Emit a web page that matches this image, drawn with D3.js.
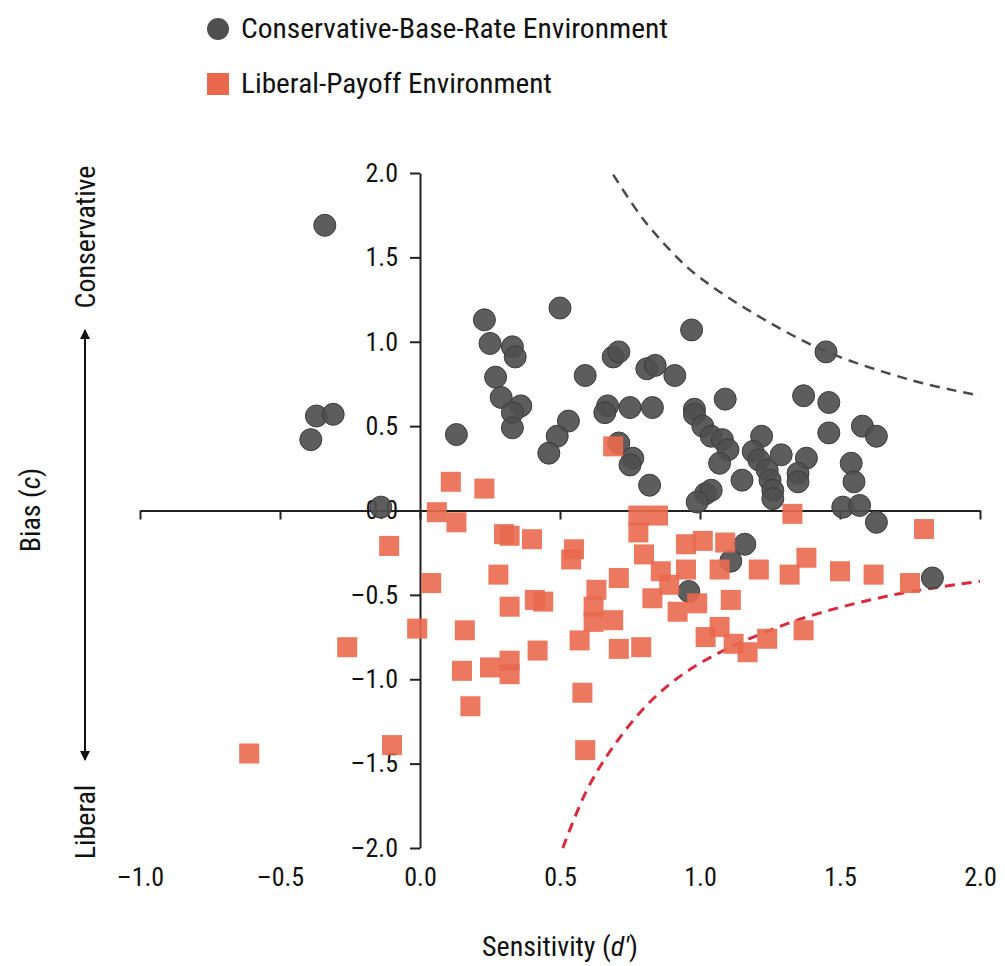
<!DOCTYPE html>
<html>
<head>
<meta charset="utf-8">
<script src="https://cdn.jsdelivr.net/npm/d3@7"></script>
<style>
  html, body { margin: 0; padding: 0; background: #fff; }
  svg text { font-family: "Liberation Sans Narrow", "Roboto Condensed", "Liberation Sans", Arial, sans-serif; fill: #111; }
</style>
</head>
<body>
<div id="chart"></div>
<script>
// legend labels
var seriesNames = ["Conservative-Base-Rate Environment", "Liberal-Payoff Environment"];

// [sensitivity d', bias c] per participant
var conservative = [
    [-0.34, 1.69], [-0.37, 0.56], [-0.31, 0.57], [-0.39, 0.42], [-0.14, 0.02],
    [0.50, 1.20], [0.23, 1.13], [0.25, 0.99], [0.33, 0.97], [0.34, 0.91], [0.27, 0.79],
    [0.29, 0.67], [0.36, 0.62], [0.33, 0.58], [0.33, 0.49], [0.13, 0.45], [0.53, 0.53],
    [0.49, 0.44], [0.46, 0.34], [0.59, 0.80], [0.69, 0.91], [0.71, 0.94], [0.81, 0.84],
    [0.84, 0.86], [0.67, 0.62], [0.66, 0.58], [0.75, 0.61], [0.83, 0.61], [0.71, 0.40],
    [0.76, 0.31], [0.75, 0.27], [0.82, 0.15],
    [0.97, 1.07], [1.45, 0.94], [0.91, 0.80], [1.09, 0.66], [1.37, 0.68], [1.46, 0.64],
    [1.46, 0.46], [1.58, 0.50], [1.63, 0.44], [0.98, 0.60], [0.98, 0.57], [1.01, 0.50],
    [1.04, 0.44], [1.08, 0.42], [1.10, 0.36], [1.07, 0.28], [1.15, 0.18], [1.22, 0.44],
    [1.19, 0.35], [1.21, 0.30], [1.24, 0.24], [1.25, 0.18], [1.26, 0.12], [1.26, 0.07],
    [1.29, 0.33], [1.38, 0.31], [1.35, 0.22], [1.35, 0.17], [1.54, 0.28], [1.55, 0.17],
    [1.51, 0.02], [1.57, 0.03], [1.63, -0.07], [1.02, 0.10], [1.04, 0.12], [0.99, 0.05],
    [1.16, -0.20], [1.11, -0.30], [0.96, -0.48], [1.83, -0.40]
];

var liberal = [
    [-0.11, -0.21], [0.04, -0.43], [-0.01, -0.70], [-0.26, -0.81], [-0.10, -1.39], [-0.61, -1.44],
    [0.11, 0.17], [0.23, 0.13], [0.06, -0.01], [0.13, -0.07], [0.69, 0.38],
    [0.30, -0.14], [0.32, -0.15], [0.40, -0.17], [0.55, -0.23], [0.54, -0.29], [0.28, -0.38],
    [0.32, -0.57], [0.41, -0.53], [0.44, -0.54], [0.16, -0.71], [0.15, -0.95], [0.18, -1.16],
    [0.25, -0.93], [0.32, -0.89], [0.32, -0.97], [0.42, -0.83], [0.57, -0.77], [0.58, -1.08],
    [0.59, -1.42], [0.63, -0.47], [0.62, -0.57], [0.62, -0.66], [0.69, -0.65], [0.71, -0.40],
    [0.71, -0.82], [0.79, -0.81], [0.78, -0.03], [0.85, -0.03], [0.78, -0.13], [0.80, -0.26],
    [0.86, -0.36], [0.83, -0.52], [0.89, -0.44], [0.92, -0.60], [0.95, -0.20], [0.95, -0.35],
    [1.33, -0.02], [1.80, -0.11], [1.01, -0.18], [1.09, -0.19], [1.07, -0.35], [1.21, -0.35],
    [1.38, -0.28], [1.32, -0.38], [1.50, -0.36], [1.62, -0.38], [1.75, -0.43], [0.99, -0.55],
    [1.11, -0.53], [1.07, -0.69], [1.02, -0.75], [1.12, -0.79], [1.17, -0.84], [1.24, -0.76],
    [1.37, -0.71]
];

// dashed boundary curves
var upperCurve = [[0.69, 1.99], [0.80, 1.72], [0.93, 1.48], [1.0, 1.38], [1.17, 1.19], [1.44, 0.95], [1.76, 0.77], [2.0, 0.68]];
var lowerCurve = [[0.51, -2.0], [0.595, -1.66], [0.69, -1.40], [0.83, -1.12], [1.0, -0.905], [1.33, -0.66], [1.69, -0.50], [2.0, -0.42]];

var xTicks = [-1.0, -0.5, 0.0, 0.5, 1.0, 1.5, 2.0];
var yTicks = [-2.0, -1.5, -1.0, -0.5, 0.0, 0.5, 1.0, 1.5, 2.0];

var width = 1005, height = 966;
var grey = "#4f4f4f", orange = "#e9694e";

var svg = d3.select("#chart").append("svg")
    .attr("width", width)
    .attr("height", height);

var x = d3.scaleLinear().domain([-1, 2]).range([140, 980]);
var y = d3.scaleLinear().domain([-2, 2]).range([848, 173]);
var fmt = function(v) { return d3.format(".1f")(v).replace("−", "–").replace("-", "–"); };

// x axis through c = 0, ticks hanging down
svg.append("g")
    .attr("transform", "translate(0," + y(0) + ")")
    .call(d3.axisBottom(x).tickValues(xTicks).tickSize(9).tickSizeOuter(0).tickFormat(""))
    .call(function(g) {
        g.select(".domain").attr("stroke", "#222").attr("stroke-width", 2);
        g.selectAll(".tick line").attr("stroke", "#222").attr("stroke-width", 2);
    });

// x tick labels sit at the bottom of the plot
svg.append("g")
    .attr("transform", "translate(0,862)")
    .call(d3.axisBottom(x).tickValues(xTicks).tickSize(0).tickPadding(6).tickFormat(fmt))
    .call(function(g) {
        g.select(".domain").remove();
        g.selectAll("text").attr("font-size", 26).style("fill", "#111");
    });

// y axis through d' = 0
svg.append("g")
    .attr("transform", "translate(" + x(0) + ",0)")
    .call(d3.axisLeft(y).tickValues(yTicks).tickSize(10).tickSizeOuter(0).tickPadding(12).tickFormat(fmt))
    .call(function(g) {
        g.select(".domain").attr("stroke", "#222").attr("stroke-width", 2);
        g.selectAll(".tick line").attr("stroke", "#222").attr("stroke-width", 2);
        g.selectAll("text").attr("font-size", 26).style("fill", "#111");
    });

// dashed curves
var line = d3.line()
    .x(function(d) { return x(d[0]); })
    .y(function(d) { return y(d[1]); })
    .curve(d3.curveCatmullRom.alpha(0.5));

svg.append("path")
    .datum(upperCurve)
    .attr("d", line)
    .attr("fill", "none")
    .attr("stroke", "#4a4a4a")
    .attr("stroke-width", 2.5)
    .attr("stroke-dasharray", "10,7");

svg.append("path")
    .datum(lowerCurve)
    .attr("d", line)
    .attr("fill", "none")
    .attr("stroke", "#d92a3e")
    .attr("stroke-width", 3)
    .attr("stroke-dasharray", "10,7");

// points
svg.selectAll(".dot")
    .data(conservative)
    .enter().append("circle")
    .attr("class", "dot")
    .attr("cx", function(d) { return x(d[0]); })
    .attr("cy", function(d) { return y(d[1]); })
    .attr("r", 11)
    .attr("fill", grey)
    .attr("fill-opacity", 0.92)
    .attr("stroke", "#3c3c3c")
    .attr("stroke-width", 1);

var sq = 20;
svg.selectAll(".sq")
    .data(liberal)
    .enter().append("rect")
    .attr("class", "sq")
    .attr("x", function(d) { return x(d[0]) - sq / 2; })
    .attr("y", function(d) { return y(d[1]) - sq / 2; })
    .attr("width", sq)
    .attr("height", sq)
    .attr("fill", orange)
    .attr("fill-opacity", 0.9);

// legend
var legend = svg.append("g");
legend.append("circle")
    .attr("cx", 218).attr("cy", 29).attr("r", 11)
    .attr("fill", grey);
legend.append("rect")
    .attr("x", 207).attr("y", 73).attr("width", 22).attr("height", 22)
    .attr("fill", orange);
legend.append("text")
    .attr("x", 241).attr("y", 38)
    .attr("font-size", 28)
    .attr("textLength", 427).attr("lengthAdjust", "spacingAndGlyphs")
    .text(seriesNames[0]);
legend.append("text")
    .attr("x", 241).attr("y", 93)
    .attr("font-size", 28)
    .attr("textLength", 311).attr("lengthAdjust", "spacingAndGlyphs")
    .text(seriesNames[1]);

// axis titles
var xt = svg.append("text")
    .attr("x", 560).attr("y", 956)
    .attr("text-anchor", "middle")
    .attr("font-size", 28);
xt.append("tspan").text("Sensitivity (");
xt.append("tspan").attr("font-style", "italic").text("d′");
xt.append("tspan").text(")");

var yt = svg.append("text")
    .attr("transform", "translate(30,510) rotate(-90)")
    .attr("text-anchor", "middle")
    .attr("dy", "0.35em")
    .attr("font-size", 28);
yt.append("tspan").text("Bias (");
yt.append("tspan").attr("font-style", "italic").text("c");
yt.append("tspan").text(")");

svg.append("text")
    .attr("transform", "translate(85,237) rotate(-90)")
    .attr("text-anchor", "middle")
    .attr("dy", "0.35em")
    .attr("font-size", 28)
    .text("Conservative");

svg.append("text")
    .attr("transform", "translate(85,822) rotate(-90)")
    .attr("text-anchor", "middle")
    .attr("dy", "0.35em")
    .attr("font-size", 28)
    .text("Liberal");

// double-headed arrow
var defs = svg.append("defs");
defs.append("marker")
    .attr("id", "arrow")
    .attr("viewBox", "0 0 10 10")
    .attr("refX", 9).attr("refY", 5)
    .attr("markerWidth", 5).attr("markerHeight", 5)
    .attr("markerUnits", "strokeWidth")
    .attr("orient", "auto-start-reverse")
    .append("path")
    .attr("d", "M0,0 L10,5 L0,10 z")
    .attr("fill", "#111");

svg.append("line")
    .attr("x1", 85).attr("y1", 330)
    .attr("x2", 85).attr("y2", 760)
    .attr("stroke", "#111")
    .attr("stroke-width", 2)
    .attr("marker-start", "url(#arrow)")
    .attr("marker-end", "url(#arrow)");
</script>
</body>
</html>
